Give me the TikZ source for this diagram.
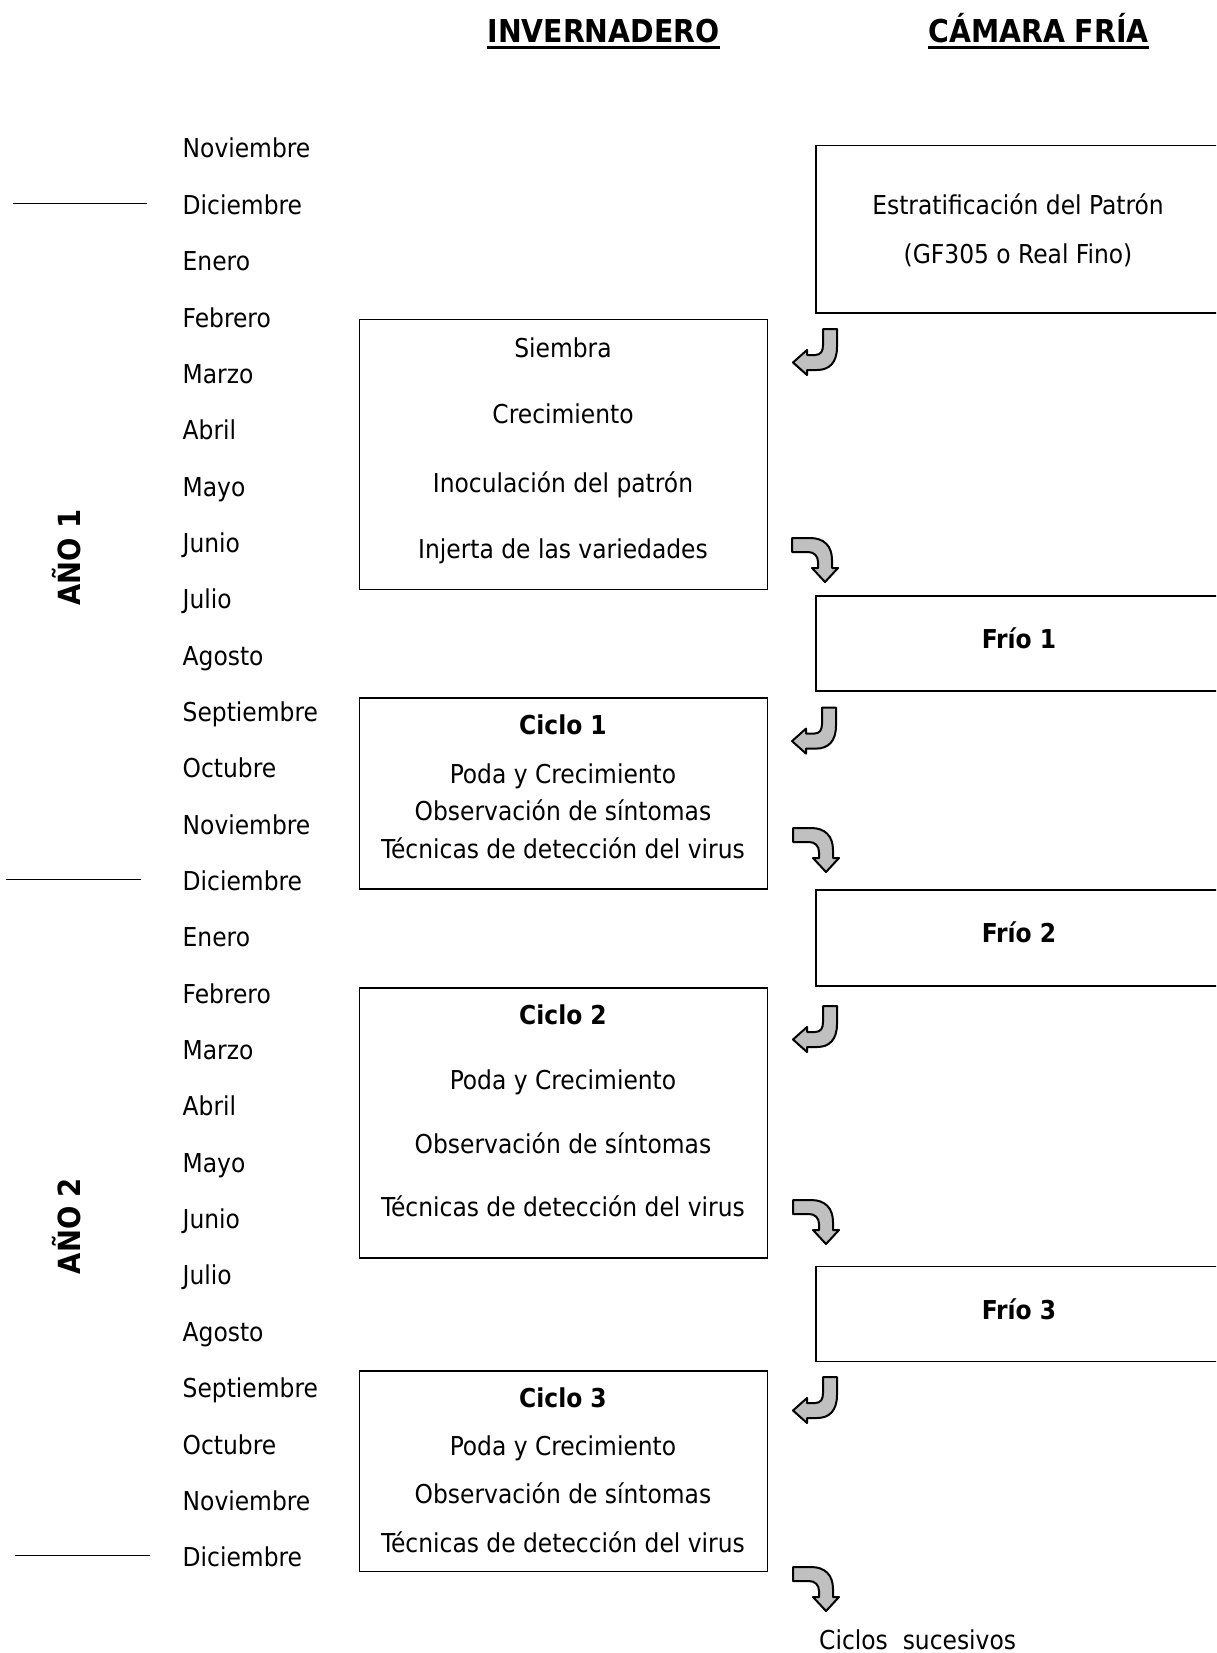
\documentclass[tikz,border=0pt]{standalone}
\usepackage{fontspec}
\setmainfont{DejaVu Sans Condensed}
\definecolor{arrgray}{HTML}{C0C0C0}
\begin{document}
\begin{tikzpicture}[x=1pt,y=-1pt,
  txt/.style={font=\fontsize{26}{31}\selectfont, inner sep=0pt, text height=18.5pt, text depth=0pt},
  month/.style={txt, anchor=west},
  btxt/.style={txt, font=\fontsize{26}{31}\selectfont\bfseries},
  hd/.style={inner sep=0pt, text height=22pt, text depth=0pt, font=\fontsize{31.5}{36}\selectfont\bfseries},
  yr/.style={inner sep=0pt, text height=20pt, text depth=0pt, font=\fontsize{30.5}{35}\selectfont\bfseries, rotate=90},
  bx/.style={draw, line width=1.5pt, inner sep=0pt, minimum width=408pt},
  cbx/.style={draw, line width=1.5pt, inner sep=0pt, minimum width=404pt},
  sep/.style={line width=1pt},
  larr/.pic={\draw[line width=2pt, fill=arrgray, line join=round]
     (30,0) -- (44,0) -- (44,18) .. controls (44,34) and (36,41) .. (24,41) -- (14,41) -- (14,46) -- (0,33.5) -- (14,21) -- (14,26) -- (22,26) .. controls (28,26) and (30,22) .. (30,16) -- cycle;},
  darr/.pic={\draw[line width=2pt, fill=arrgray, line join=round]
     (0,0) -- (18,0) .. controls (32,0) and (40,8) .. (40,22) -- (40,30) -- (46,30) -- (33,44) -- (20,30) -- (26,30) -- (26,24) .. controls (26,18) and (22,14) .. (16,14) -- (0,14) -- cycle;}
]
\useasboundingbox (0,0) rectangle (1216,1653);
\clip (0,0) rectangle (1216,1653);

% headers
\node[hd] (hInv) at (603.5,32) {INVERNADERO};
\node[hd] (hCam) at (1038.5,32) {CÁMARA FRÍA};
\draw[line width=3.3pt] ([yshift=-4.5pt]hInv.south west) -- ([yshift=-4.5pt]hInv.south east);
\draw[line width=3.3pt] ([yshift=-4.5pt]hCam.south west) -- ([yshift=-4.5pt]hCam.south east);

% months
\foreach \m [count=\i from 0] in {Noviembre,Diciembre,Enero,Febrero,Marzo,Abril,Mayo,Junio,Julio,Agosto,Septiembre,Octubre,Noviembre,Diciembre,Enero,Febrero,Marzo,Abril,Mayo,Junio,Julio,Agosto,Septiembre,Octubre,Noviembre,Diciembre}
  \node[month] (m\i) at (182.5,148.7+56.35*\i) {\m};

% year separators
\coordinate (s1a) at (13,203.5);  \coordinate (s1b) at (147,203.5);
\coordinate (s2a) at (6,879.5);   \coordinate (s2b) at (141,879.5);
\coordinate (s3a) at (15,1555.5); \coordinate (s3b) at (150,1555.5);
\draw[sep] (s1a) -- (s1b);
\draw[sep] (s2a) -- (s2b);
\draw[sep] (s3a) -- (s3b);

\node[yr] (y1) at (70,557.5) {AÑO 1};
\node[yr] (y2) at (70,1226) {AÑO 2};

% cold chamber boxes
\node[cbx, minimum height=167.5pt] (estr) at (1018,229.25) {};
\node[txt] (estrA) at (1018,205.6) {Estratificación del Patrón};
\node[txt] (estrB) at (1018,254) {(GF305 o Real Fino)};

\node[cbx, minimum height=95pt] (f1) at (1018,643.5) {};
\node[btxt] (f1t) at (1019,639) {Frío 1};
\node[cbx, minimum height=96pt] (f2) at (1018,938) {};
\node[btxt] (f2t) at (1019,933) {Frío 2};
\node[cbx, minimum height=95pt] (f3) at (1018,1314) {};
\node[btxt] (f3t) at (1019,1310) {Frío 3};

% greenhouse boxes
\node[bx, minimum height=270pt] (sb) at (563.6,454.5) {};
\node[txt] (sb1) at (563,348) {Siembra};
\node[txt] (sb2) at (563,414.5) {Crecimiento};
\node[txt] (sb3) at (563,483) {Inoculación del patrón};
\node[txt] (sb4) at (563,549.5) {Injerta de las variedades};

\node[bx, minimum height=191pt] (c1) at (563.6,793.5) {};
\node[btxt] (c1a) at (563,725.6) {Ciclo 1};
\node[txt] (c1b) at (563,774) {Poda y Crecimiento};
\node[txt] (c1c) at (563,811) {Observación de síntomas};
\node[txt] (c1d) at (563,849) {Técnicas de detección del virus};

\node[bx, minimum height=270pt] (c2) at (563.6,1123) {};
\node[btxt] (c2a) at (563,1015.6) {Ciclo 2};
\node[txt] (c2b) at (563,1080) {Poda y Crecimiento};
\node[txt] (c2c) at (563,1144) {Observación de síntomas};
\node[txt] (c2d) at (563,1207.5) {Técnicas de detección del virus};

\node[bx, minimum height=200.4pt] (c3) at (563.6,1471.2) {};
\node[btxt] (c3a) at (563,1398) {Ciclo 3};
\node[txt] (c3b) at (563,1446) {Poda y Crecimiento};
\node[txt] (c3c) at (563,1494) {Observación de síntomas};
\node[txt] (c3d) at (563,1543) {Técnicas de detección del virus};

\node[txt, anchor=west] (cs) at (819,1640) {Ciclos\ \ sucesivos};

% block arrows
\pic at (793,329) {larr};
\pic at (792,538) {darr};
\pic at (792,707.6) {larr};
\pic at (793,828) {darr};
\pic at (793,1006) {larr};
\pic at (793,1200) {darr};
\pic at (793,1377) {larr};
\pic at (793,1567) {darr};
\end{tikzpicture}
\end{document}
